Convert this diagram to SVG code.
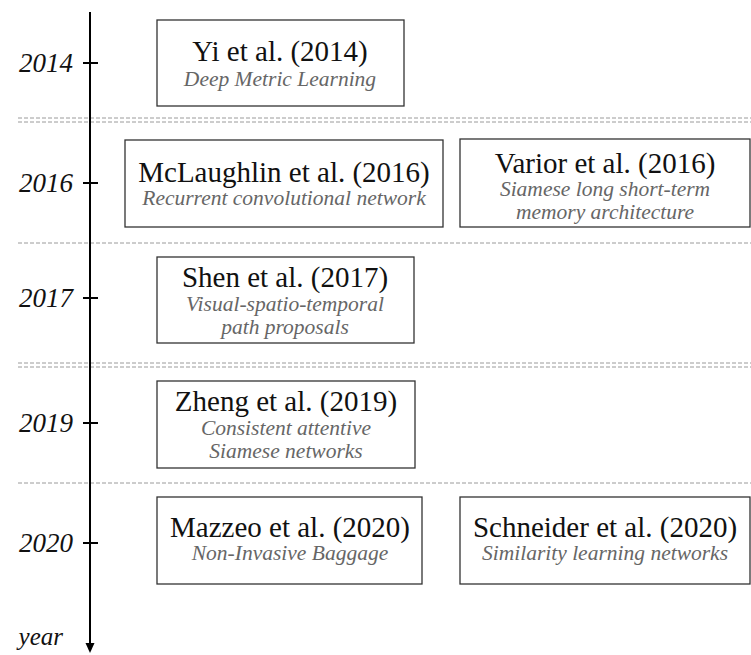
<svg xmlns="http://www.w3.org/2000/svg" width="751" height="655" viewBox="0 0 751 655">
<style>
.sep{stroke:#9a9a9a;stroke-width:1;stroke-dasharray:4 2;fill:none}
.box{fill:#fff;stroke:#333;stroke-width:1.3}
.t{font-family:"Liberation Serif",serif;font-size:29px;fill:#111;text-anchor:middle}
.s{font-family:"Liberation Serif",serif;font-style:italic;font-size:21.5px;fill:#666;text-anchor:middle}
.y{font-family:"Liberation Serif",serif;font-style:italic;font-size:27px;fill:#111;text-anchor:end}
.ax{stroke:#000;stroke-width:2;fill:none}
</style>
<g id="separators">
<line class="sep" x1="18" y1="118" x2="751" y2="118"/>
<line class="sep" x1="18" y1="122" x2="751" y2="122"/>
<line class="sep" x1="18" y1="243" x2="751" y2="243"/>
<line class="sep" x1="18" y1="363" x2="751" y2="363"/>
<line class="sep" x1="18" y1="367" x2="751" y2="367"/>
<line class="sep" x1="18" y1="483" x2="751" y2="483"/>
</g>
<g id="connectors">
<line class="ax" x1="90" y1="12" x2="90" y2="645"/>
<path d="M85.5,643 L94.5,643 L90,653 Z" fill="#000"/>
<line class="ax" x1="83" y1="63" x2="98" y2="63"/>
<line class="ax" x1="83" y1="183" x2="98" y2="183"/>
<line class="ax" x1="83" y1="298" x2="98" y2="298"/>
<line class="ax" x1="83" y1="423" x2="98" y2="423"/>
<line class="ax" x1="83" y1="543" x2="98" y2="543"/>
</g>
<g id="axis-labels">
<text class="y" x="73" y="72">2014</text>
<text class="y" x="73" y="192">2016</text>
<text class="y" x="73" y="307">2017</text>
<text class="y" x="73" y="432">2019</text>
<text class="y" x="73" y="552">2020</text>
<text class="y" x="63" y="645" style="font-size:25px">year</text>
</g>
<g id="yi2014">
<rect class="box" x="157" y="20" width="247" height="86"/>
<text class="t" x="280" y="61">Yi et al. (2014)</text>
<text class="s" x="280" y="86">Deep Metric Learning</text>
</g>
<g id="mclaughlin2016">
<rect class="box" x="125" y="140" width="318" height="87"/>
<text class="t" x="284" y="182">McLaughlin et al. (2016)</text>
<text class="s" x="284" y="205">Recurrent convolutional network</text>
</g>
<g id="varior2016">
<rect class="box" x="460" y="139" width="290" height="88"/>
<text class="t" x="605" y="173">Varior et al. (2016)</text>
<text class="s" x="605" y="196">Siamese long short-term</text>
<text class="s" x="605" y="219">memory architecture</text>
</g>
<g id="shen2017">
<rect class="box" x="157" y="257" width="257" height="86"/>
<text class="t" x="285" y="287">Shen et al. (2017)</text>
<text class="s" x="285" y="311">Visual-spatio-temporal</text>
<text class="s" x="285" y="334">path proposals</text>
</g>
<g id="zheng2019">
<rect class="box" x="157" y="381" width="258" height="87"/>
<text class="t" x="286" y="411">Zheng et al. (2019)</text>
<text class="s" x="286" y="435">Consistent attentive</text>
<text class="s" x="286" y="458">Siamese networks</text>
</g>
<g id="mazzeo2020">
<rect class="box" x="157" y="497" width="265" height="87"/>
<text class="t" x="290" y="537">Mazzeo et al. (2020)</text>
<text class="s" x="290" y="560">Non-Invasive Baggage</text>
</g>
<g id="schneider2020">
<rect class="box" x="460" y="497" width="290" height="87"/>
<text class="t" x="605" y="537">Schneider et al. (2020)</text>
<text class="s" x="605" y="560">Similarity learning networks</text>
</g>
</svg>
